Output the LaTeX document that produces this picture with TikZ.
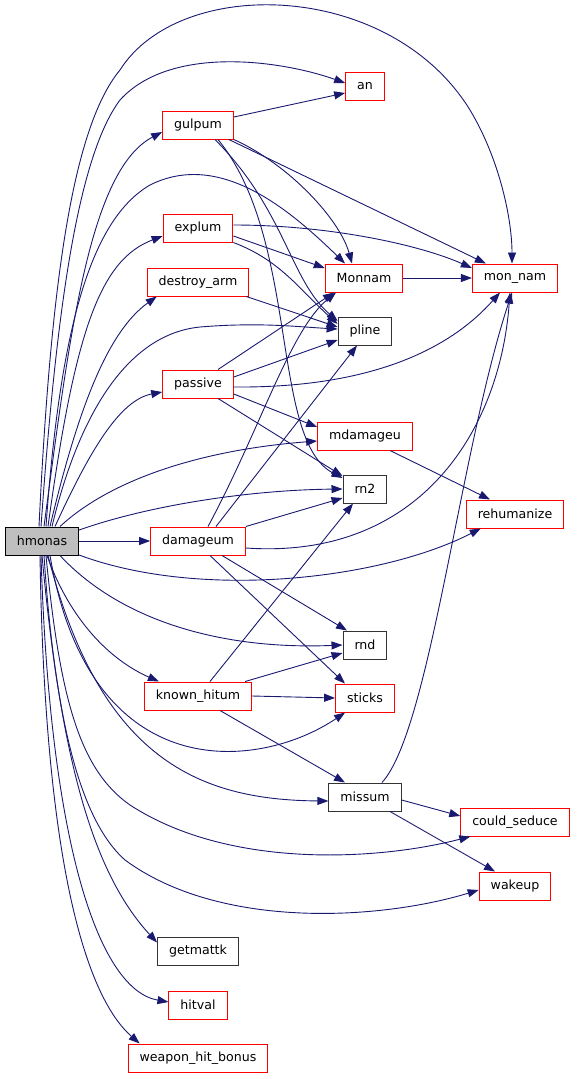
\documentclass[tikz,border=0pt]{standalone}
\usepackage{fontspec}
\setmainfont{DejaVu Sans}
\usetikzlibrary{arrows.meta}
\definecolor{edgeblue}{HTML}{191970}
\definecolor{rootgray}{HTML}{BFBFBF}
\begin{document}
\begin{tikzpicture}[x=1pt,y=-1pt,
    fn/.style={rectangle,line width=1pt,minimum height=28pt,inner xsep=11.5pt,inner ysep=0pt,
      font=\fontsize{12.6}{15}\selectfont},
    redfn/.style={fn,draw=red},
    blackfn/.style={fn,draw=black!80},
    rootfn/.style={fn,draw=black,fill=rootgray},
    call/.style={draw=edgeblue,line width=0.9pt,-{Triangle[length=11pt,width=8pt]}}]
    \useasboundingbox (0,0) rectangle (576,1079);
    % Nodi
    \node[rootfn]  (hmonas)         at (42,541)  {hmonas};
    \node[redfn]   (damageum)       at (198,541) {damageum};
    \node[redfn]   (an)             at (365,86)  {an};
    \node[redfn]   (gulpum)         at (198,125) {gulpum};
    \node[redfn]   (explum)         at (198,228) {explum};
    \node[redfn]   (destroyarm)     at (198,282) {destroy\_arm};
    \node[redfn]   (passive)        at (198,384) {passive};
    \node[redfn]   (Monnam)         at (364,278) {Monnam};
    \node[redfn]   (monnam)         at (515,278) {mon\_nam};
    \node[blackfn] (pline)          at (365,331) {pline};
    \node[redfn]   (mdamageu)       at (365,436) {mdamageu};
    \node[blackfn] (rntwo)          at (365,489) {rn2};
    \node[redfn]   (rehumanize)     at (515,514) {rehumanize};
    \node[blackfn] (rnd)            at (365,645) {rnd};
    \node[redfn]   (knownhitum)     at (198,696) {known\_hitum};
    \node[redfn]   (sticks)         at (365,698) {sticks};
    \node[blackfn] (missum)         at (365,797) {missum};
    \node[redfn]   (couldseduce)    at (515,822) {could\_seduce};
    \node[redfn]   (wakeup)         at (515,886) {wakeup};
    \node[blackfn] (getmattk)       at (198,951) {getmattk};
    \node[redfn]   (hitval)         at (198,1005) {hitval};
    \node[redfn]   (weaponhitbonus) at (198,1058) {weapon\_hit\_bonus};
    % Chiamate di hmonas, verso l'alto
    \draw[call] ([xshift=-3pt]hmonas.north) .. controls (50,300) and (70,130) .. (120,70)
      .. controls (180,-25) and (390,-20) .. (470,110) .. controls (500,160) and (512,220) .. ([xshift=-3pt]monnam.north);
    \draw[call] ([xshift=-1pt]hmonas.north) .. controls (55,330) and (75,160) .. (120,100)
      .. controls (170,45) and (280,60) .. ([yshift=3pt]an.west);
    \draw[call] ([xshift=2pt]hmonas.north) .. controls (70,330) and (90,170) .. ([yshift=-7pt]gulpum.west);
    \draw[call] ([xshift=4pt]hmonas.north) .. controls (60,330) and (90,220) .. (150,185)
      .. controls (220,150) and (290,210) .. ([xshift=-19pt]Monnam.north);
    \draw[call] ([xshift=6pt]hmonas.north) .. controls (75,330) and (100,260) .. ([yshift=-8pt]explum.west);
    \draw[call] ([xshift=8pt]hmonas.north) .. controls (80,400) and (110,330) .. ([xshift=10pt]destroyarm.south west);
    \draw[call] ([xshift=10pt]hmonas.north) .. controls (75,430) and (120,335) .. (200,327)
      .. controls (260,322) and (300,327) .. ([yshift=2pt]pline.west);
    \draw[call] ([xshift=13pt]hmonas.north) .. controls (90,450) and (120,400) .. ([yshift=-8pt]passive.west);
    \draw[call] ([xshift=18pt]hmonas.north) .. controls (110,480) and (200,450) .. ([yshift=-5pt]mdamageu.west);
    \draw[call] ([yshift=11pt]hmonas.east) .. controls (150,505) and (250,490) .. (rntwo.west);
    \draw[call] (hmonas.east) -- (damageum.west);
    % Chiamate di hmonas, verso il basso
    \draw[call] ([yshift=-14pt]hmonas.east) .. controls (200,600) and (380,580) .. ([xshift=15pt]rehumanize.south west);
    \draw[call] ([xshift=18pt]hmonas.south) .. controls (120,620) and (220,650) .. (rnd.west);
    \draw[call] ([xshift=5pt]hmonas.south) .. controls (70,620) and (110,660) .. ([xshift=15pt]knownhitum.north west);
    \draw[call] ([xshift=8pt]hmonas.south) .. controls (90,790) and (260,770) .. ([xshift=10pt]sticks.south west);
    \draw[call] ([xshift=6pt]hmonas.south) .. controls (100,760) and (200,800) .. ([yshift=-4pt]missum.west);
    \draw[call] ([xshift=4pt]hmonas.south) .. controls (60,700) and (80,770) .. (130,805)
      .. controls (230,870) and (380,860) .. ([xshift=10pt]couldseduce.south west);
    \draw[call] ([xshift=2pt]hmonas.south) .. controls (55,720) and (80,820) .. (125,860)
      .. controls (220,930) and (380,920) .. ([yshift=-4pt]wakeup.west);
    \draw[call] (hmonas.south) .. controls (60,750) and (90,870) .. ([yshift=-6pt]getmattk.north west);
    \draw[call] ([xshift=-1pt]hmonas.south) .. controls (50,850) and (100,990) .. ([yshift=3pt]hitval.west);
    \draw[call] ([xshift=-2pt]hmonas.south) .. controls (45,880) and (90,1000) .. ([xshift=12pt]weaponhitbonus.north west);
    % gulpum
    \draw[call] ([yshift=8pt]gulpum.east) -- ([yshift=-7pt]an.west);
    \draw[call] ([xshift=-5pt]gulpum.south east) -- ([xshift=14pt]monnam.north west);
    \draw[call] (gulpum.south east) .. controls (290,165) and (340,220) .. ([xshift=-12pt]Monnam.north);
    \draw[call] ([xshift=17pt]gulpum.south) .. controls (285,210) and (290,280) .. ([yshift=10pt]pline.west);
    \draw[call] ([xshift=20pt]gulpum.south) .. controls (300,240) and (270,440) .. ([yshift=11pt]rntwo.west);
    % explum
    \draw[call] ([yshift=3pt]explum.east) .. controls (330,225) and (420,245) .. ([yshift=10pt]monnam.west);
    \draw[call] ([yshift=-8pt]explum.east) -- ([yshift=10pt]Monnam.west);
    \draw[call] (explum.south east) .. controls (280,260) and (300,290) .. ([yshift=7pt]pline.west);
    % destroy_arm
    \draw[call] ([xshift=-3pt]destroyarm.south east) -- ([yshift=4pt]pline.west);
    % passive
    \draw[call] ([xshift=20pt]passive.north) -- ([xshift=-30pt]Monnam.south);
    \draw[call] ([yshift=7pt]passive.east) -- ([yshift=-9pt]pline.west);
    \draw[call] ([yshift=-3pt]passive.east) .. controls (350,388) and (440,360) .. ([xshift=-15pt]monnam.south);
    \draw[call] ([yshift=-10pt]passive.east) -- ([yshift=9pt]mdamageu.west);
    \draw[call] ([xshift=20pt]passive.south) -- ([yshift=13pt]rntwo.west);
    % damageum
    \draw[call] ([xshift=10pt]damageum.north) .. controls (260,430) and (290,330) .. ([xshift=-28pt]Monnam.south);
    \draw[call] ([xshift=18pt]damageum.north) -- ([xshift=-8pt]pline.south);
    \draw[call] (damageum.north east) -- ([yshift=-9pt]rntwo.west);
    \draw[call] ([yshift=-7pt]damageum.east) .. controls (420,560) and (500,430) .. ([xshift=-5pt]monnam.south);
    \draw[call] ([xshift=24pt]damageum.south) -- ([xshift=-18pt]rnd.north);
    \draw[call] ([xshift=12pt]damageum.south) -- ([xshift=-20pt]sticks.north);
    % altri
    \draw[call] (Monnam.east) -- (monnam.west);
    \draw[call] ([xshift=25pt]mdamageu.south) -- ([xshift=-25pt]rehumanize.north);
    \draw[call] ([xshift=12pt]knownhitum.north) -- ([xshift=-12pt]rntwo.south);
    \draw[call] ([xshift=-7pt]knownhitum.north east) -- ([yshift=-8pt]rnd.west);
    \draw[call] (knownhitum.east) -- (sticks.west);
    \draw[call] ([xshift=22pt]knownhitum.south) -- ([xshift=-20pt]missum.north);
    \draw[call] ([xshift=17pt]missum.north) .. controls (430,730) and (460,450) .. ([xshift=-3pt]monnam.south);
    \draw[call] ([yshift=-3pt]missum.east) -- ([yshift=6pt]couldseduce.west);
    \draw[call] ([xshift=25pt]missum.south) -- ([xshift=-20pt]wakeup.north);
\end{tikzpicture}
\end{document}
